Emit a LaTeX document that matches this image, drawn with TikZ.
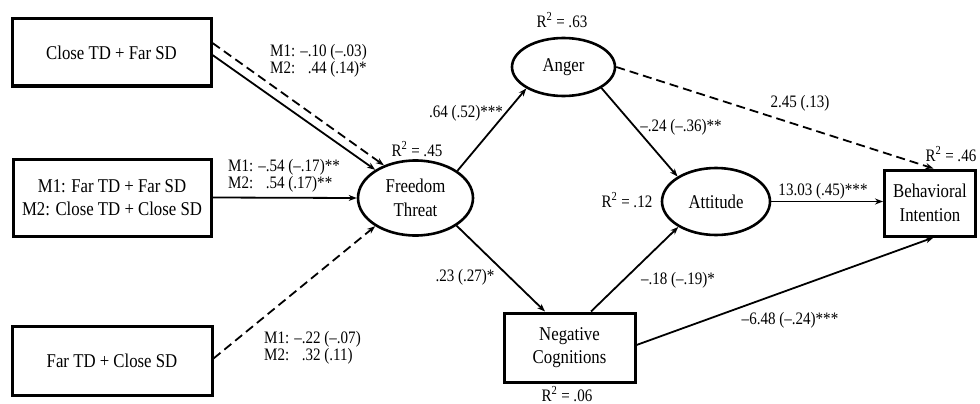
\documentclass[tikz,border=0pt]{standalone}
\usepackage{fontspec}
\setmainfont[FakeStretch=0.86]{Liberation Serif}
\usetikzlibrary{arrows.meta,shapes.geometric}
\begin{document}
\begin{tikzpicture}[x=1pt,y=-1pt,
 boxn/.style={draw, line width=3pt, rectangle, inner sep=0pt, align=center, font=\fontsize{19.5}{23.5}\selectfont},
 elln/.style={draw, line width=2.6pt, ellipse, inner sep=0pt, align=center, font=\fontsize{19.5}{23.5}\selectfont},
 conn/.style={line width=1.8pt, -{Stealth[length=8pt,width=6pt]}},
 dconn/.style={conn, dash pattern=on 9pt off 5pt},
 lbl/.style={font=\fontsize{17.5}{17.5}\selectfont, inner sep=0pt, align=left},
]
\useasboundingbox (0,0) rectangle (980,404);
% nodes
\node[boxn, minimum width=199pt, minimum height=67pt] (b1) at (111.5,52.5) {Close TD + Far SD};
\node[boxn, minimum width=198pt, minimum height=77pt] (b2) at (112,197.5) {M1: Far TD + Far SD\\M2: Close TD + Close SD};
\node[boxn, minimum width=200pt, minimum height=69pt] (b3) at (112,360.5) {Far TD + Close SD};
\node[elln, minimum width=115pt, minimum height=75pt] (ft) at (415.5,198) {Freedom\\Threat};
\node[elln, minimum width=103pt, minimum height=58pt] (anger) at (563.5,67) {Anger};
\node[elln, minimum width=108pt, minimum height=67pt] (att) at (716,201.5) {Attitude};
\node[boxn, minimum width=131pt, minimum height=69pt] (nc) at (569.5,347.5) {Negative\\Cognitions};
\node[boxn, minimum width=91pt, minimum height=66pt] (bi) at (930,203) {Behavioral\\Intention};
% connectors
\draw[dconn] ([yshift=9.5pt]b1.east) -- (ft.134);
\draw[conn] ([yshift=-2.5pt]b1.east) -- (ft.145);
\draw[conn] (b2.east) -- (ft.west);
\draw[dconn] ([yshift=2pt]b3.east) -- (ft.215);
\draw[conn] (ft.33) -- (anger.210);
\draw[conn] (ft.-34) -- ([xshift=-24.5pt]nc.north);
\draw[conn] (anger.-29) -- (att.147);
\draw[conn] ([xshift=21.5pt]nc.north) -- (att.214);
\draw[dconn] (anger.east) -- ([xshift=3.5pt]bi.north);
\draw[conn] (att.east) -- (att.east -| bi.west);
\draw[conn] ([yshift=2.5pt]nc.east) -- ([xshift=3.5pt]bi.south);
% labels
\node[lbl, anchor=west] (l1) at (270,61) {M1: –.10 (–.03)\\M2: \phantom{–}.44 (.14)*};
\node[lbl, anchor=west] (l2) at (228,176) {M1: –.54 (–.17)**\\M2: \phantom{–}.54 (.17)**};
\node[lbl, anchor=west] (l3) at (264,348) {M1: –.22 (–.07)\\M2: \phantom{–}.32 (.11)};
\node[lbl] (r45) at (417,149) {R\textsuperscript{2} = .45};
\node[lbl] (r63) at (562,20) {R\textsuperscript{2} = .63};
\node[lbl] (r12) at (627,200) {R\textsuperscript{2} = .12};
\node[lbl] (r06) at (567,394) {R\textsuperscript{2} = .06};
\node[lbl] (r46) at (951,154) {R\textsuperscript{2} = .46};
\node[lbl] (c1) at (466,113) {.64 (.52)***};
\node[lbl] (c2) at (465,277) {.23 (.27)*};
\node[lbl] (c3) at (681,127) {–.24 (–.36)**};
\node[lbl] (c4) at (678,280) {–.18 (–.19)*};
\node[lbl] (c5) at (800,103) {2.45 (.13)};
\node[lbl] (c6) at (823,191) {13.03 (.45)***};
\node[lbl] (c7) at (790,320) {–6.48 (–.24)***};
\end{tikzpicture}
\end{document}
